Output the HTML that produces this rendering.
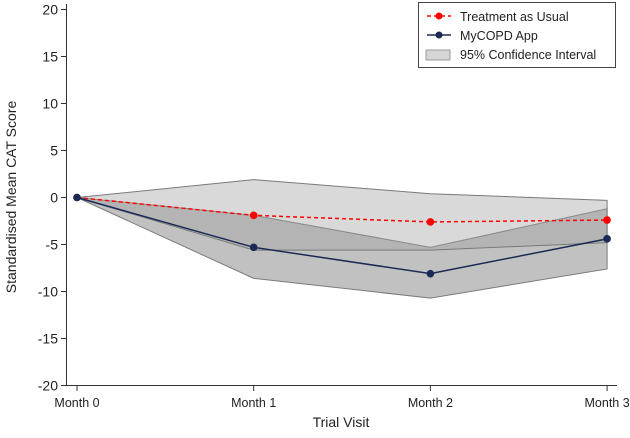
<!DOCTYPE html>
<html><head><meta charset="utf-8"><style>
body{margin:0;background:#fff}
svg{display:block;font-family:"Liberation Sans",Arial,sans-serif}
</style></head><body>
<svg width="630" height="438" viewBox="0 0 630 438">
<g id="bands"></g><g id="axes"></g><g id="series"></g>
<text x="16" y="197" transform="rotate(-90 16 197)" text-anchor="middle" font-size="14" fill="#222">Standardised Mean CAT Score</text>
<text x="341" y="427" text-anchor="middle" font-size="14" fill="#222">Trial Visit</text>
<g>
<rect x="418.5" y="2.5" width="197" height="65" fill="#fff" stroke="#444"/>
<line x1="427" y1="16" x2="451" y2="16" stroke="#f00" stroke-width="1.5" stroke-dasharray="4,3"/><circle cx="439" cy="16" r="3.5" fill="#f00"/>
<text x="460" y="21" font-size="12.5" fill="#222">Treatment as Usual</text>
<line x1="427" y1="35" x2="451" y2="35" stroke="#1b2a55" stroke-width="1.5"/><circle cx="439" cy="35" r="3.5" fill="#1b2a55"/>
<text x="460" y="40" font-size="12.5" fill="#222">MyCOPD App</text>
<rect x="426" y="50" width="24" height="10" fill="#d6d6d6" stroke="#999"/>
<text x="460" y="59" font-size="12.5" fill="#222">95% Confidence Interval</text>
</g>
</svg>
<script>
const categories=["Month 0","Month 1","Month 2","Month 3"];
const tauMean=[0,-1.9,-2.6,-2.4];
const tauLower=[0,-5.6,-5.6,-4.8];
const tauUpper=[0,1.9,0.4,-0.3];
const appMean=[0,-5.3,-8.1,-4.4];
const appLower=[0,-8.6,-10.7,-7.6];
const appUpper=[0,-1.9,-5.3,-1.2];
const yTicks=[20,15,10,5,0,-5,-10,-15,-20];
const NS="http://www.w3.org/2000/svg";
const x=i=>77+i*176.7;
const y=v=>197.5-v*9.4;
function mk(tag,attrs,parent){const e=document.createElementNS(NS,tag);for(const k in attrs)e.setAttribute(k,attrs[k]);parent.appendChild(e);return e;}
const bands=document.getElementById('bands'),axes=document.getElementById('axes'),series=document.getElementById('series');
function band(lo,hi,fill,op,name){
  const pts=hi.map((v,i)=>x(i)+","+y(v)).concat(lo.map((v,i)=>x(i)+","+y(v)).reverse()).join(" ");
  const p=mk('polygon',{points:pts,fill:fill,'fill-opacity':op,stroke:'#7a7a7a','stroke-width':1},bands);
  
  
}
band(appLower,appUpper,'#a0a0a0',0.65,'app-ci-band');
band(tauLower,tauUpper,'#a0a0a0',0.4,'tau-ci-band');
const ya=mk('line',{x1:66.5,y1:4,x2:66.5,y2:385.5,stroke:'#333'},axes);


const xa=mk('line',{x1:66,y1:385.5,x2:617,y2:385.5,stroke:'#333'},axes);


yTicks.forEach(t=>{
  mk('line',{x1:61,y1:y(t),x2:66.5,y2:y(t),stroke:'#333'},axes);
  const tx=mk('text',{x:58,y:y(t)+5,'text-anchor':'end','font-size':14,fill:'#222'},axes);
  tx.textContent=t;
  
  
});
categories.forEach((c,i)=>{
  mk('line',{x1:x(i),y1:385.5,x2:x(i),y2:391,stroke:'#333'},axes);
  const tx=mk('text',{x:x(i),y:407,'text-anchor':'middle','font-size':12.5,fill:'#222'},axes);
  tx.textContent=c;
  
  
});
function line(vals,color,dash,name){
  const l=mk('polyline',{points:vals.map((v,i)=>x(i)+","+y(v)).join(" "),fill:'none',stroke:color,'stroke-width':1.5,'stroke-dasharray':dash},series);
  
  
  vals.forEach((v,i)=>{
    const c=mk('circle',{cx:x(i),cy:y(v),r:3.8,fill:color},series);
    
    
  });
}
line(tauMean,'#ff0000','4,3','tau');
line(appMean,'#1b2a55','none','app');
</script>
</body></html>
